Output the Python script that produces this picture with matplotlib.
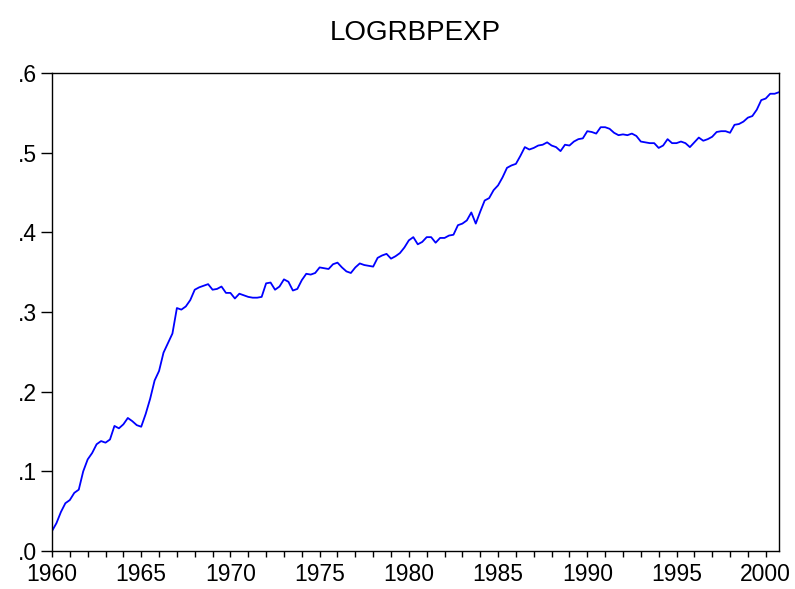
import matplotlib
matplotlib.use("Agg")
import matplotlib.pyplot as plt
import numpy as np
from matplotlib.ticker import FuncFormatter, MultipleLocator

# quarterly series, 1960Q1 - 2000Q4
start_year = 1960
logrbpexp = [
    0.025, 0.035, 0.049, 0.060, 0.064, 0.073, 0.077, 0.100,  # 1960-61
    0.115, 0.123, 0.134, 0.138, 0.136, 0.140, 0.157, 0.154,  # 1962-63
    0.159, 0.167, 0.163, 0.158, 0.156, 0.172, 0.191, 0.214,  # 1964-65
    0.226, 0.249, 0.261, 0.273, 0.305, 0.303, 0.307, 0.315,  # 1966-67
    0.328, 0.331, 0.333, 0.335, 0.328, 0.329, 0.332, 0.324,  # 1968-69
    0.324, 0.317, 0.323, 0.321, 0.319, 0.318, 0.318, 0.319,  # 1970-71
    0.336, 0.337, 0.328, 0.332, 0.341, 0.338, 0.327, 0.329,  # 1972-73
    0.340, 0.348, 0.347, 0.349, 0.356, 0.355, 0.354, 0.360,  # 1974-75
    0.362, 0.356, 0.351, 0.349, 0.356, 0.361, 0.359, 0.358,  # 1976-77
    0.357, 0.368, 0.371, 0.373, 0.367, 0.370, 0.374, 0.381,  # 1978-79
    0.390, 0.394, 0.385, 0.388, 0.394, 0.394, 0.387, 0.393,  # 1980-81
    0.393, 0.396, 0.397, 0.409, 0.411, 0.415, 0.425, 0.411,  # 1982-83
    0.426, 0.440, 0.443, 0.453, 0.459, 0.469, 0.481, 0.484,  # 1984-85
    0.486, 0.496, 0.507, 0.504, 0.506, 0.509, 0.510, 0.513,  # 1986-87
    0.509, 0.507, 0.502, 0.510, 0.509, 0.514, 0.517, 0.518,  # 1988-89
    0.527, 0.526, 0.524, 0.532, 0.532, 0.530, 0.525, 0.522,  # 1990-91
    0.523, 0.522, 0.524, 0.521, 0.514, 0.513, 0.512, 0.512,  # 1992-93
    0.506, 0.509, 0.517, 0.512, 0.512, 0.514, 0.512, 0.507,  # 1994-95
    0.513, 0.519, 0.515, 0.517, 0.520, 0.526, 0.527, 0.527,  # 1996-97
    0.525, 0.535, 0.536, 0.539, 0.544, 0.546, 0.554, 0.566,  # 1998-99
    0.568, 0.574, 0.574, 0.576,                              # 2000
]
t = start_year + np.arange(len(logrbpexp)) / 4.0

plt.rcParams['font.family'] = ['Liberation Sans', 'DejaVu Sans']

fig = plt.figure(figsize=(7.95, 5.89), dpi=100)
ax = fig.add_axes([0.0654, 0.0645, 0.9146, 0.8115])
ax.plot(t, logrbpexp, color="#0000ff", linewidth=1.3)

ax.set_xlim(t[0], t[-1])
ax.set_ylim(0, 0.6)
ax.xaxis.set_major_locator(MultipleLocator(5))
ax.xaxis.set_minor_locator(MultipleLocator(1))
ax.yaxis.set_major_locator(MultipleLocator(0.1))
ax.yaxis.set_major_formatter(FuncFormatter(lambda v, p: ("%.1f" % v).lstrip("0")))

ax.tick_params(axis="x", which="both", direction="out", length=4.5,
               width=1, labelsize=16.5, pad=4)
ax.tick_params(axis="y", which="both", direction="out", length=8,
               width=1, labelsize=16.5, pad=3)
for s in ax.spines.values():
    s.set_linewidth(1.0)

ax.set_title("LOGRBPEXP", fontsize=20, pad=24)

fig.savefig("out.png", dpi=100)
